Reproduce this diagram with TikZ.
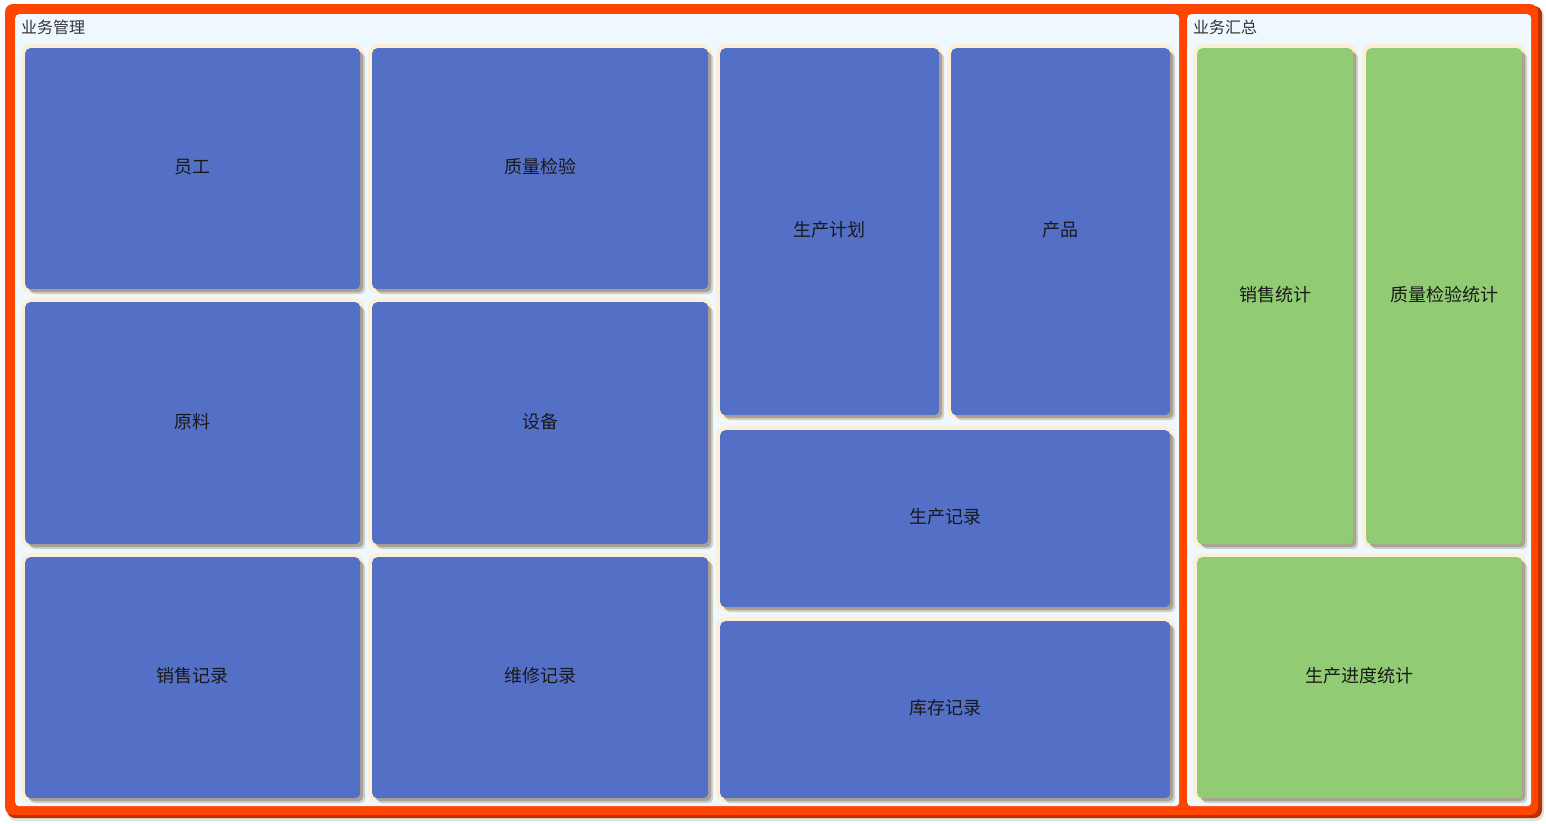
\documentclass[tikz,border=0pt]{standalone}
\usepackage{fontspec}
\setmainfont{Noto Sans CJK SC}
\usetikzlibrary{positioning}
\definecolor{rootred}{HTML}{FF4500}
\definecolor{rootdark}{HTML}{B83200}
\definecolor{panelbg}{HTML}{F0F8FF}
\definecolor{tilerim}{HTML}{FCEFD8}
\definecolor{tileshade}{HTML}{8E897F}
\definecolor{tileblue}{HTML}{5470C6}
\definecolor{tilegreen}{HTML}{91CC75}
\tikzset{
  panel/.style={fill=panelbg, rounded corners=4pt, inner sep=0pt, anchor=north west},
  title/.style={anchor=west, inner sep=0pt, text=black!80, font=\fontsize{16}{16}\selectfont},
  tile/.style={rounded corners=5pt, inner sep=0pt, anchor=north west, fill=tileblue,
    font=\fontsize{18}{18}\selectfont, text=black!90, text height=13pt, text depth=3pt,
    preaction={draw=tilerim, line width=8pt},
    preaction={fill=tileshade, opacity=.6, transform canvas={shift={(3pt,-3pt)}}},
    preaction={fill=tileshade, opacity=.35, transform canvas={shift={(5pt,-5pt)}}}},
  stat/.style={tile, fill=tilegreen}
}
\begin{document}
\begin{tikzpicture}[x=1pt, y=-1pt]
\useasboundingbox (0,0) rectangle (1546,823);
% root frame with its shadow
\fill[black!12, rounded corners=8pt] (8,8) rectangle (1544,821);
\fill[rootdark, rounded corners=8pt] (7,6) rectangle (1542,818);
\fill[rootred, rounded corners=8pt] (5,4) rectangle (1538,815);
% groups
\node[panel, minimum width=1164pt, minimum height=792pt] (mgmt) at (15,14) {};
\node[panel, minimum width=344pt, minimum height=792pt] (summ) at (1187,14) {};
\node[title] (mgmtT) at (21,27) {业务管理};
\node[title] (summT) at (1193,27) {业务汇总};
% business management
\node[tile, minimum width=335pt, minimum height=241pt] (staff) at (25,48) {员工};
\node[tile, minimum width=336pt, minimum height=241pt] (qc) at (372,48) {质量检验};
\node[tile, minimum width=335pt, minimum height=242pt] (raw) at (25,302) {原料};
\node[tile, minimum width=336pt, minimum height=242pt] (equip) at (372,302) {设备};
\node[tile, minimum width=335pt, minimum height=241pt] (sales) at (25,557) {销售记录};
\node[tile, minimum width=336pt, minimum height=241pt] (repair) at (372,557) {维修记录};
\node[tile, minimum width=219pt, minimum height=367pt] (plan) at (720,48) {生产计划};
\node[tile, minimum width=219pt, minimum height=367pt] (prod) at (951,48) {产品};
\node[tile, minimum width=450pt, minimum height=177pt] (prodrec) at (720,430) {生产记录};
\node[tile, minimum width=450pt, minimum height=177pt] (stock) at (720,621) {库存记录};
% business summary
\node[stat, minimum width=156pt, minimum height=496pt] (salesSt) at (1197,48) {销售统计};
\node[stat, minimum width=156pt, minimum height=496pt] (qcSt) at (1366,48) {质量检验统计};
\node[stat, minimum width=325pt, minimum height=241pt] (progSt) at (1197,557) {生产进度统计};
\end{tikzpicture}
\end{document}
